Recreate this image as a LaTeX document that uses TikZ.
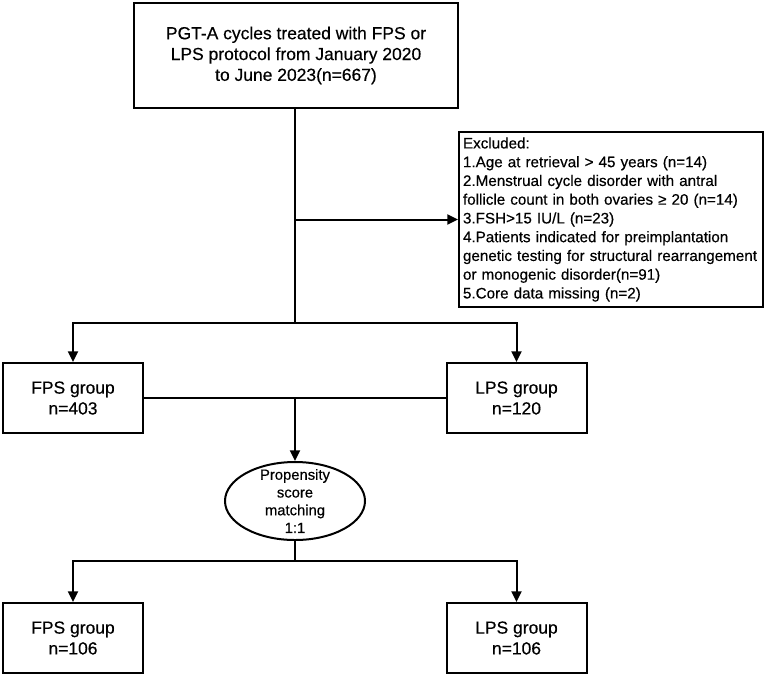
\documentclass[tikz,border=0pt]{standalone}
\usepackage{fontspec}
\setmainfont{Liberation Sans}[FakeBold=0.4]
\usetikzlibrary{arrows.meta, shapes.geometric}

\begin{document}
\begin{tikzpicture}[x=0.75pt, y=-0.75pt, line width=1.5pt,
  box/.style={draw, rectangle, align=center, font=\fontsize{13.1}{15.6}\selectfont},
  grp/.style={box, minimum width=105pt, minimum height=52.5pt},
  arr/.style={-{Triangle[length=8pt, width=7.5pt]}}]

  \useasboundingbox (0,0) rectangle (767,676);

  % Boxes
  \node[box, minimum width=243pt, minimum height=78.75pt] (cycles) at (296,55.5)
    {PGT-A cycles treated with FPS or\\LPS protocol from January 2020\\to June 2023(n=667)};
  \node[draw, rectangle, anchor=west, align=left, inner sep=3pt,
        text width=222pt, minimum height=131.25pt,
        font=\fontsize{11.4}{14.06}\selectfont] (excl) at (458,219.5)
    {Excluded:\\
     1.Age at retrieval > 45 years (n=14)\\
     2.Menstrual cycle disorder with antral\\
     follicle count in both ovaries ≥ 20 (n=14)\\
     3.FSH>15 IU/L (n=23)\\
     4.Patients indicated for preimplantation\\
     genetic testing for structural rearrangement\\
     or monogenic disorder(n=91)\\
     5.Core data missing (n=2)};
  \node[grp] (fpsA) at (73,398) {FPS group\\n=403};
  \node[grp] (lpsA) at (516.5,398) {LPS group\\n=120};
  \node[draw, ellipse, minimum width=105pt, minimum height=58.5pt] (psm) at (295,501) {};
  \node[align=center, font=\fontsize{11.1}{13.3}\selectfont] (psmtext) at (psm.center)
    {Propensity\\score\\matching\\1:1};
  \node[grp] (fpsB) at (73,638) {FPS group\\n=106};
  \node[grp] (lpsB) at (516.5,638) {LPS group\\n=106};

  % Split points
  \coordinate (split1) at (295,323);
  \coordinate (merge) at (295,398);
  \coordinate (split2) at (295,561);

  % Connectors
  \draw (cycles.south -| split1) -- (split1);
  \draw[arr] (split1 |- excl.west) -- (excl.west);
  \draw[arr] (split1) -| (fpsA.north);
  \draw[arr] (split1) -| (lpsA.north);
  \draw (fpsA) -- (lpsA);
  \draw[arr] (merge) -- (psm.north);
  \draw (psm.south) -- (split2);
  \draw[arr] (split2) -| (fpsB.north);
  \draw[arr] (split2) -| (lpsB.north);

\end{tikzpicture}
\end{document}
